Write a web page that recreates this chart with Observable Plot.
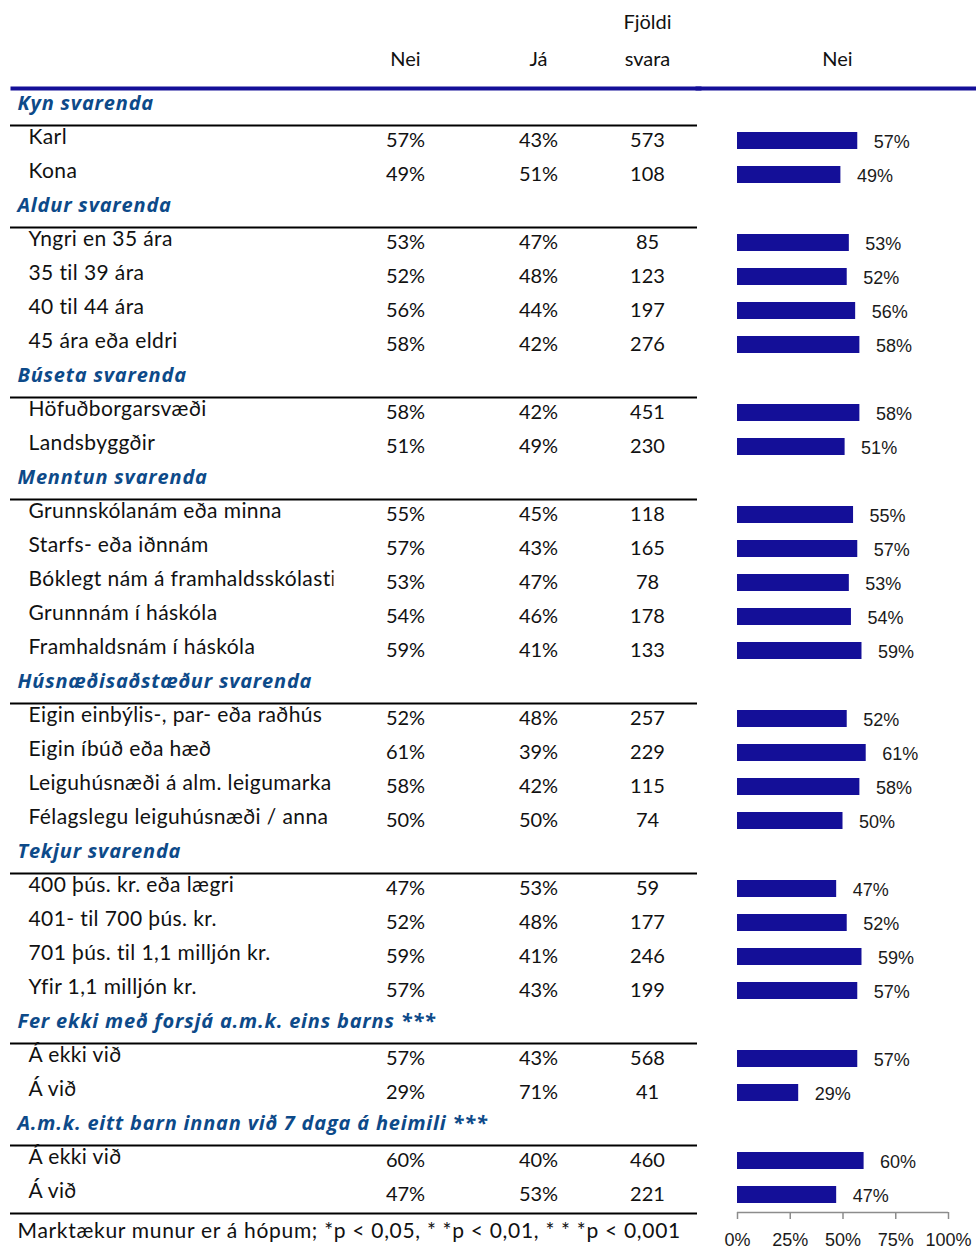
<!DOCTYPE html>
<html>
<head>
<meta charset="utf-8">
<script src="https://cdn.jsdelivr.net/npm/d3@7"></script>
<script src="https://cdn.jsdelivr.net/npm/@observablehq/plot@0.6"></script>
<style>
  body { margin: 0; background: #fff; }
  #chart { position: relative; width: 976px; height: 1249px; }
  #chart > svg { position: absolute; top: 0; overflow: visible; }
  .row-label text { letter-spacing: 0.4px; }
  .foot text { letter-spacing: 0.7px; }
  .group-title text { letter-spacing: 0.8px; }
</style>
</head>
<body>
<div id="chart"></div>
<script>
// Survey breakdown: share answering "Nei" / "Já" and number of answers per group
const groups = [
  "Kyn svarenda",
  "Aldur svarenda",
  "Búseta svarenda",
  "Menntun svarenda",
  "Húsnæðisaðstæður svarenda",
  "Tekjur svarenda",
  "Fer ekki með forsjá a.m.k. eins barns ***",
  "A.m.k. eitt barn innan við 7 daga á heimili ***"
];
const groupSizes = [2, 4, 2, 5, 4, 4, 2, 2];
const categories = [
  "Karl", "Kona",
  "Yngri en 35 ára", "35 til 39 ára", "40 til 44 ára", "45 ára eða eldri",
  "Höfuðborgarsvæði", "Landsbyggðir",
  "Grunnskólanám eða minna", "Starfs- eða iðnnám", "Bóklegt nám á framhaldsskólastig",
  "Grunnnám í háskóla", "Framhaldsnám í háskóla",
  "Eigin einbýlis-, par- eða raðhús", "Eigin íbúð eða hæð",
  "Leiguhúsnæði á alm. leigumarka", "Félagslegu leiguhúsnæði / anna",
  "400 þús. kr. eða lægri", "401- til 700 þús. kr.", "701 þús. til 1,1 milljón kr.", "Yfir 1,1 milljón kr.",
  "Á ekki við", "Á við",
  "Á ekki við", "Á við"
];
const nei = [57, 49, 53, 52, 56, 58, 58, 51, 55, 57, 53, 54, 59, 52, 61, 58, 50, 47, 52, 59, 57, 57, 29, 60, 47];
const ja  = [43, 51, 47, 48, 44, 42, 42, 49, 45, 43, 47, 46, 41, 48, 39, 42, 50, 53, 48, 41, 43, 43, 71, 40, 53];
const fjoldi = [573, 108, 85, 123, 197, 276, 451, 230, 118, 165, 78, 178, 133, 257, 229, 115, 74, 59, 177, 246, 199, 568, 41, 460, 221];
const columnHeaders = ["Nei", "Já", "Fjöldi\nsvara"];
const barHeader = "Nei";
const axisTicks = [0, 25, 50, 75, 100];
const footnote = "Marktækur munur er á hópum; *p < 0,05, * *p < 0,01, * * *p < 0,001";

// One slot per group title, followed by one slot per category row
const slots = [];
let r = 0;
groups.forEach((g, gi) => {
  slots.push({slot: slots.length, kind: "group", label: g});
  for (let k = 0; k < groupSizes[gi]; k++, r++) {
    slots.push({slot: slots.length, kind: "row", label: categories[r], nei: nei[r], ja: ja[r], n: fjoldi[r], first: k === 0});
  }
});
const rows = slots.filter(d => d.kind === "row");
const titles = slots.filter(d => d.kind === "group");
const firstRows = rows.filter(d => d.first);
const lastRow = rows[rows.length - 1];

const H = 1249;
const NAVY = "#140f98";
const TITLE = "#0d4a89";
const TABLE_FONT = "Lato, sans-serif";
const TITLE_FONT = "'Open Sans', sans-serif";
const BAR_FONT = "'Liberation Sans', Arial, sans-serif";
const yScale = {type: "band", domain: slots.map(d => d.slot), range: [89, 1211], padding: 0, axis: null};
const baseStyle = {fontFamily: TABLE_FONT, fontSize: "20px", color: "#111", background: "transparent", overflow: "visible"};

// Column centres of the table (offset from the table's left edge)
const colX = [395, 528, 637];
// Category labels start this far into the table; the cell ends at labelCellRight
const labelIndent = 18;
const labelCellRight = 333;

const table = Plot.plot({
  width: 700, height: H,
  marginTop: 88, marginBottom: 37, marginLeft: 10, marginRight: 3,
  style: baseStyle,
  y: yScale,
  marks: [
    Plot.frame({anchor: "top", stroke: NAVY, strokeWidth: 4, dx: 2}),
    ...columnHeaders.map((h, i) => Plot.text([h], {
      text: d => d, frameAnchor: "top-left", dx: colX[i], textAnchor: "middle", lineAnchor: "middle",
      lineHeight: 1.85, dy: h.includes("\n") ? -53 : -34.5, fill: "#111"
    })),
    Plot.text(titles, {
      y: "slot", text: "label", frameAnchor: "left", dx: 7, dy: -3, textAnchor: "start",
      fontFamily: TITLE_FONT, fontSize: 20, fontWeight: "bold", fontStyle: "italic", fill: TITLE,
      className: "group-title"
    }),
    Plot.ruleY(firstRows, {y: "slot", dy: -15, stroke: "#000", strokeWidth: 2}),
    Plot.ruleY([lastRow], {y: "slot", dy: 19, stroke: "#000", strokeWidth: 2}),
    Plot.text(rows, {
      y: "slot", text: "label", frameAnchor: "left", dx: labelIndent, dy: -3, textAnchor: "start",
      fontSize: 21, fill: "#111", className: "row-label"
    }),
    Plot.text(rows, {y: "slot", text: d => d.nei + "%", frameAnchor: "left", dx: colX[0], textAnchor: "middle", fill: "#111"}),
    Plot.text(rows, {y: "slot", text: d => d.ja + "%", frameAnchor: "left", dx: colX[1], textAnchor: "middle", fill: "#111"}),
    Plot.text(rows, {y: "slot", text: d => String(d.n), frameAnchor: "left", dx: colX[2], textAnchor: "middle", fill: "#111"}),
    Plot.text([footnote], {
      frameAnchor: "bottom-left", dx: 7, dy: 19, textAnchor: "start", lineAnchor: "middle",
      fontSize: 21, fill: "#111", className: "foot"
    })
  ]
});

// Clip the category labels to their cell (clip coordinates are local to the label group,
// which is shifted right by labelIndent)
const tsvg = d3.select(table);
tsvg.insert("defs", ":first-child")
  .append("clipPath").attr("id", "label-cell").attr("clipPathUnits", "userSpaceOnUse")
  .append("rect").attr("x", -labelIndent).attr("y", -H).attr("width", labelCellRight).attr("height", 3 * H);
tsvg.selectAll(".row-label").attr("clip-path", "url(#label-cell)");

const bars = Plot.plot({
  width: 279, height: H,
  marginTop: 88, marginBottom: 37, marginLeft: 0, marginRight: 0,
  style: baseStyle,
  x: {domain: [0, 100], range: [40, 251], label: null},
  y: yScale,
  marks: [
    Plot.frame({anchor: "top", stroke: NAVY, strokeWidth: 4}),
    Plot.text([barHeader], {frameAnchor: "top-left", dx: 140, dy: -29, textAnchor: "middle", lineAnchor: "middle", fill: "#111"}),
    Plot.barX(rows, {x: "nei", y: "slot", fill: NAVY, insetTop: 9, insetBottom: 8}),
    Plot.text(rows, {
      x: "nei", y: "slot", text: d => d.nei + "%", textAnchor: "start", dx: 16, dy: 2,
      fontFamily: BAR_FONT, fontSize: 18, fill: "#1a1a1a"
    }),
    Plot.ruleY([lastRow], {y: "slot", dy: 18, x1: 0, x2: 100, stroke: "#8c8c8c", strokeWidth: 1.5}),
    Plot.axisX({
      ticks: axisTicks, tickFormat: d => d + "%", tickSize: 7, tickPadding: 14,
      stroke: "#8c8c8c", strokeWidth: 1.5, fill: "#1a1a1a", fontSize: 18, fontFamily: BAR_FONT, label: null
    })
  ]
});

table.style.left = "0px";
bars.style.left = "697px";
const root = document.getElementById("chart");
root.appendChild(table);
root.appendChild(bars);
</script>
</body>
</html>
